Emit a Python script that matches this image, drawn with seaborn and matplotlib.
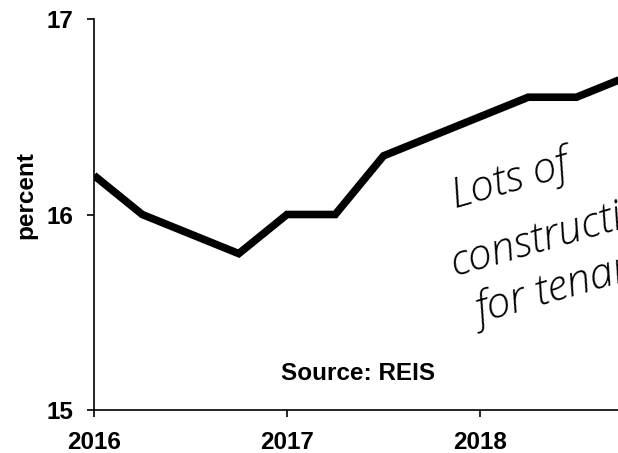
import matplotlib
matplotlib.use("Agg")
import matplotlib.pyplot as plt
import seaborn as sns

# quarterly office vacancy rate
quarters = [2016.0, 2016.25, 2016.5, 2016.75,
            2017.0, 2017.25, 2017.5, 2017.75,
            2018.0, 2018.25, 2018.5, 2018.75]
vacancy = [16.2, 16.0, 15.9, 15.8,
           16.0, 16.0, 16.3, 16.4,
           16.5, 16.6, 16.6, 16.7]

x_ticks = [2016, 2017, 2018]
x_labels = ["2016", "2017", "2018"]
y_ticks = [15, 16, 17]
y_labels = ["15", "16", "17"]

note_lines = ["Lots of", "construction", "for tenants"]

sns.set_style("ticks")
plt.rcParams["font.family"] = ["Liberation Sans", "DejaVu Sans"]
for key in ["text.color", "axes.labelcolor", "xtick.color", "ytick.color", "axes.edgecolor"]:
    plt.rcParams[key] = "black"

fig = plt.figure(figsize=(6.18, 4.53), dpi=100)
# axes run off the right edge of the picture, as in the original
ax = fig.add_axes([94 / 618, 1 - 410 / 453, 579 / 618, 391 / 453])

sns.lineplot(x=quarters, y=vacancy, color="black", linewidth=5.5, ax=ax,
             solid_joinstyle="miter", solid_capstyle="butt")

ax.set_xlim(2016, 2019)
ax.set_ylim(15, 17)
ax.set_xticks(x_ticks)
ax.set_xticklabels(x_labels, fontsize=17.5, fontweight="bold")
ax.set_yticks(y_ticks)
ax.set_yticklabels(y_labels, fontsize=17.5, fontweight="bold")
ax.tick_params(axis="both", direction="out", length=5, width=1.2, color="black", pad=10)

for side in ["top", "right"]:
    ax.spines[side].set_visible(False)
for side in ["left", "bottom"]:
    ax.spines[side].set_linewidth(1.2)

ax.set_ylabel("percent", fontsize=17.5, fontweight="bold")
ax.yaxis.set_label_coords(-0.098, 0.55)

ax.text(358 / 618, 1 - 380 / 453, "Source: REIS", transform=fig.transFigure,
        fontsize=17.5, fontweight="bold", ha="center", va="baseline")

# handwritten note, cut off by the right edge like the original
note_pos = [(455, 208), (455, 276), (480, 324)]
for (px, py), line in zip(note_pos, note_lines):
    fig.text(px / 618, 1 - py / 453, line, fontsize=31, rotation=16,
             rotation_mode="anchor", ha="left", va="baseline",
             family=["Open Sans", "DejaVu Sans"], fontweight=300, style="italic")

fig.savefig("out.png", dpi=100)
